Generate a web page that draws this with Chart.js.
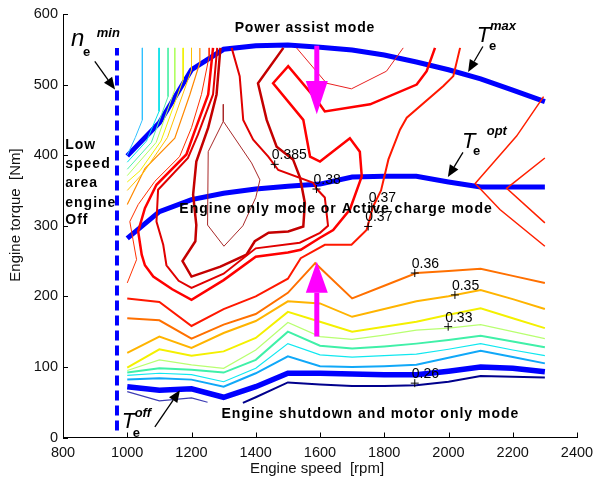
<!DOCTYPE html>
<html>
<head>
<title>Engine efficiency map</title>
<script src="https://cdn.jsdelivr.net/npm/chart.js"></script>
<style>
    body { margin: 0; background: #fff; }
    #wrap { width: 593px; height: 483px; }
</style>
</head>
<body>
<div id="wrap"><canvas id="map" width="593" height="483"></canvas></div>
<script>
    // speed grid (rpm) shared by the open curves
    const speeds = [1000, 1100, 1200, 1300, 1400, 1500, 1600, 1700, 1800, 1900, 2000, 2100, 2200, 2300];

    // operating lines (Nm)
    const teMax = [399, 446, 521, 550, 555, 556, 553, 549, 542, 532, 521, 508, 492, 476];
    const teOpt = [282, 320, 337, 346, 352, 356, 359, 369, 370, 370, 362, 355, 355, 355];
    const teOff = [72, 67, 69, 57, 72, 91, 91, 90, 89, 89, 94, 100, 98, 93];
    const neMinSpeed = 968;
    const neMinRange = [10, 552];

    // low-load efficiency contours
    const effOrangeX = [1000, 1100, 1200, 1300, 1400, 1500, 1585, 1700, 1800, 1900, 2000, 2100, 2200, 2300];
    const effOrangeY = [169, 166, 140, 160, 175, 205, 247, 197, 215, 233, 236, 239, 229, 219];
    const effGold = [120, 143, 127, 148, 165, 193, 190, 171, 182, 193, 200, 209, 196, 182];
    const effYellow = [99, 125, 116, 122, 141, 178, 164, 150, 157, 164, 174, 183, 169, 155];
    const effLightGreen = [95, 110, 103, 98, 124, 163, 143, 139, 145, 152, 155, 160, 150, 140];
    const effGreen = [92, 98, 96, 92, 110, 150, 130, 126, 129, 133, 138, 144, 136, 128];
    const effCyan = [88, 91, 89, 79, 98, 133, 117, 114, 116, 118, 125, 133, 124, 116];
    const effSky = [82, 84, 82, 72, 91, 115, 101, 100, 101, 103, 113, 123, 114, 105];
    const effNavyX = [1360, 1400, 1500, 1600, 1700, 1800, 1900, 2000, 2100, 2200, 2300];
    const effNavyY = [49, 57, 78, 75, 73, 73, 74, 79, 87, 86, 85];
    const effVioletX = [1000, 1100, 1200, 1250];
    const effVioletY = [65, 52, 56, 50];

    // high-torque contours at low speed
    const fan1X = [1047, 1047, 1025, 1000];
    const fan1Y = [552, 450, 425, 400];
    const fan2X = [1099, 1099, 1060, 1000];
    const fan2Y = [552, 462, 420, 390];
    const fan3X = [1127, 1127, 1075, 1000];
    const fan3Y = [552, 483, 418, 380];
    const fan4X = [1148, 1148, 1090, 1000];
    const fan4Y = [552, 493, 418, 371];
    const fan5X = [1174, 1174, 1105, 1040, 1000];
    const fan5Y = [552, 507, 420, 378, 362];
    const fan6X = [1200, 1200, 1125, 1050, 1000];
    const fan6Y = [552, 521, 425, 375, 350];
    const fan7X = [1226, 1226, 1195, 1148, 1055, 1000];
    const fan7Y = [552, 531, 486, 424, 381, 330];
    const fan8X = [1255, 1255, 1231, 1200, 1163, 1086, 1034, 1008, 1018, 1029, 1000];
    const fan8Y = [552, 540, 486, 439, 398, 363, 330, 306, 280, 252, 219];

    // best efficiency island
    const eff37X = [1000, 1100, 1200, 1300, 1400, 1500, 1540, 1615, 1698, 1745, 1765, 1790, 1813, 1849, 1870, 1984, 2015, 2036];
    const eff37Y = [197, 192, 158, 182, 200, 225, 254, 273, 273, 294, 327, 350, 394, 436, 453, 498, 512, 552];
    const eff375X = [1267, 1252, 1210, 1184, 1091, 1055, 1034, 1045, 1055, 1081, 1140, 1200, 1300, 1400, 1500, 1540, 1600, 1641, 1693, 1730, 1724, 1693, 1600, 1569, 1548, 1454, 1501, 1590, 1615, 1756, 1901, 1932, 1958];
    const eff375Y = [552, 486, 434, 401, 358, 325, 292, 259, 244, 228, 210, 195, 223, 256, 262, 266, 283, 294, 323, 370, 405, 424, 391, 398, 450, 502, 526, 478, 462, 472, 500, 519, 552];
    const eff38X = [1280, 1267, 1220, 1189, 1096, 1091, 1112, 1122, 1160, 1200, 1300, 1400, 1537, 1600, 1625, 1615, 1590, 1579, 1470, 1439, 1392, 1361, 1350, 1325];
    const eff38Y = [552, 486, 429, 396, 351, 306, 273, 244, 222, 212, 232, 268, 276, 290, 300, 340, 352, 361, 379, 398, 422, 450, 512, 552];
    const eff385X = [1290, 1278, 1252, 1215, 1205, 1215, 1212, 1172, 1200, 1290, 1371, 1397, 1440, 1501, 1548, 1553, 1538, 1516, 1465, 1434, 1407, 1486];
    const eff385Y = [552, 486, 439, 391, 344, 301, 278, 250, 228, 242, 259, 278, 290, 292, 299, 332, 368, 394, 412, 450, 502, 552];
    const eff39X = [1299, 1299, 1252, 1250, 1301, 1360, 1400, 1413, 1387, 1299];
    const eff39Y = [472, 448, 405, 301, 271, 300, 340, 365, 389, 448];
    const effTopX = [1527, 1620, 1698, 1807, 1859];
    const effTopY = [552, 502, 494, 519, 552];
    const effRight1X = [2296, 2212, 2083, 2160, 2300];
    const effRight1Y = [483, 427, 360, 323, 271];
    const effRight2X = [2300, 2181, 2300];
    const effRight2Y = [396, 353, 304];

    // contour value labels: text, speed, torque of the marker
    const labelText = ['0.385', '0.38', '0.37', '0.37', '0.36', '0.35', '0.33', '0.26'];
    const labelSpeed = [1459, 1589, 1761, 1750, 1895, 2020, 1999, 1895];
    const labelTorque = [387, 352, 327, 299, 233, 202, 157, 77];

    const xTicks = [800, 1000, 1200, 1400, 1600, 1800, 2000, 2200, 2400];
    const yTicks = [0, 100, 200, 300, 400, 500, 600];

    function pts(xs, ys) {
        return xs.map((v, i) => ({ x: v, y: ys[i] }));
    }

    function line(xs, ys, color, width, extra) {
        return Object.assign({
            data: pts(xs, ys),
            showLine: true,
            borderColor: color,
            borderWidth: width,
            pointRadius: 0,
            tension: 0,
            fill: false
        }, extra || {});
    }

    const datasets = [
        line(effVioletX, effVioletY, '#3c3cb4', 1.2),
        line(effNavyX, effNavyY, '#00008c', 2),
        line(speeds, effSky, '#10a8f8', 2),
        line(speeds, effCyan, '#10e8f0', 1.2),
        line(speeds, effGreen, '#40f0a8', 2),
        line(speeds, effLightGreen, '#b8ff70', 1.2),
        line(speeds, effYellow, '#f4f000', 2),
        line(speeds, effGold, '#ffb400', 2),
        line(effOrangeX, effOrangeY, '#ff7000', 2),
        line(fan1X, fan1Y, '#30c0ff', 1),
        line(fan2X, fan2Y, '#00e0e8', 1),
        line(fan3X, fan3Y, '#50f0a8', 1),
        line(fan4X, fan4Y, '#b0ff60', 1),
        line(fan5X, fan5Y, '#f0f000', 1),
        line(fan6X, fan6Y, '#ffc000', 1),
        line(fan7X, fan7Y, '#ff8800', 1.2),
        line(fan8X, fan8Y, '#ff3000', 1),
        line(eff37X, eff37Y, '#ff1800', 2),
        line(eff375X, eff375Y, '#ff0000', 2.5),
        line(eff38X, eff38Y, '#e00000', 2),
        line(eff385X, eff385Y, '#c40000', 2.5),
        line(eff39X, eff39Y, '#a82828', 1),
        line(effTopX, effTopY, '#e82020', 1),
        line(effRight1X, effRight1Y, '#ff2000', 1.5),
        line(effRight2X, effRight2Y, '#ff2000', 1.5),
        line(speeds, teOff, '#0000ff', 5.5),
        line(speeds, teOpt, '#0000ff', 5),
        line(speeds, teMax, '#0000ff', 5),
        line([neMinSpeed, neMinSpeed], neMinRange, '#0000ff', 4, { borderDash: [10, 5] })
    ];

    const FONT = '"Liberation Sans", Arial, sans-serif';

    const overlay = {
        id: 'overlay',
        afterDraw(chart) {
            const { ctx, chartArea: a, scales: { x, y } } = chart;
            const X = v => x.getPixelForValue(v);
            const Y = v => y.getPixelForValue(v);

            function text(str, sx, ty, font, align, spacing) {
                ctx.font = font;
                ctx.textAlign = align || 'left';
                ctx.textBaseline = 'alphabetic';
                ctx.letterSpacing = spacing || '0px';
                ctx.fillStyle = '#000';
                ctx.fillText(str, X(sx), Y(ty));
                ctx.letterSpacing = '0px';
            }

            function arrow(x1, y1, x2, y2) {
                const ax = X(x1), ay = Y(y1), bx = X(x2), by = Y(y2);
                const ang = Math.atan2(by - ay, bx - ax);
                const hl = 12, hw = 5;
                ctx.strokeStyle = '#000';
                ctx.lineWidth = 1.3;
                ctx.beginPath();
                ctx.moveTo(ax, ay);
                ctx.lineTo(bx - Math.cos(ang) * hl, by - Math.sin(ang) * hl);
                ctx.stroke();
                ctx.fillStyle = '#000';
                ctx.beginPath();
                ctx.moveTo(bx, by);
                ctx.lineTo(bx - Math.cos(ang) * hl - Math.sin(ang) * hw, by - Math.sin(ang) * hl + Math.cos(ang) * hw);
                ctx.lineTo(bx - Math.cos(ang) * hl + Math.sin(ang) * hw, by - Math.sin(ang) * hl - Math.cos(ang) * hw);
                ctx.closePath();
                ctx.fill();
            }

            function bigArrow(sx, fromT, neckT, tipT) {
                const cx = X(sx);
                ctx.fillStyle = '#ff00ff';
                ctx.fillRect(cx - 2.5, Math.min(Y(fromT), Y(neckT)), 5, Math.abs(Y(fromT) - Y(neckT)));
                ctx.beginPath();
                ctx.moveTo(cx - 11, Y(neckT));
                ctx.lineTo(cx + 11, Y(neckT));
                ctx.lineTo(cx, Y(tipT));
                ctx.closePath();
                ctx.fill();
            }

            ctx.save();

            // inward tick marks
            ctx.strokeStyle = '#000';
            ctx.lineWidth = 1;
            xTicks.forEach(v => {
                ctx.beginPath();
                ctx.moveTo(Math.round(X(v)) + 0.5, a.bottom);
                ctx.lineTo(Math.round(X(v)) + 0.5, a.bottom - 5);
                ctx.stroke();
            });
            yTicks.forEach(v => {
                ctx.beginPath();
                ctx.moveTo(a.left, Math.round(Y(v)) + 0.5);
                ctx.lineTo(a.left + 5, Math.round(Y(v)) + 0.5);
                ctx.stroke();
            });

            // power flow arrows
            bigArrow(1590, 555, 505, 458);
            bigArrow(1590, 143, 205, 249);

            // contour labels with their markers
            labelText.forEach((t, i) => {
                const mx = X(labelSpeed[i]), my = Y(labelTorque[i]);
                ctx.strokeStyle = '#000';
                ctx.lineWidth = 1;
                ctx.beginPath();
                ctx.moveTo(mx - 4, my); ctx.lineTo(mx + 4, my);
                ctx.moveTo(mx, my - 4); ctx.lineTo(mx, my + 4);
                ctx.stroke();
                ctx.font = '14px ' + FONT;
                ctx.textAlign = 'left';
                ctx.textBaseline = 'middle';
                ctx.fillStyle = '#000';
                ctx.fillText(t, mx - 3, my - 9);
            });

            // operating region captions
            const bold = 'bold 14px ' + FONT;
            text('Power assist mode', 1553, 574, bold, 'center', '0.8px');
            text('Engine only mode or Active charge mode', 1650, 318, bold, 'center', '1px');
            text('Engine shutdown and motor only mode', 1757, 27, bold, 'center', '1px');
            const lowSpeed = ['Low', 'speed', 'area', 'engine', 'Off'];
            const lowSpeedT = [409, 382, 355, 327, 302];
            lowSpeed.forEach((s, i) => text(s, 807, lowSpeedT[i], bold, 'left', '1px'));

            // symbols for the operating lines
            const sym = 'italic 22px ' + FONT;
            const sub = 'bold 13px ' + FONT;
            const sup = 'bold italic 13px ' + FONT;
            text('n', 825, 554, 'italic 24px ' + FONT);
            text('e', 862, 540, sub);
            text('min', 905, 568, sup);
            text('T', 2088, 561, sym);
            text('e', 2126, 549, sub);
            text('max', 2129, 578, sup);
            text('T', 2042, 410, sym);
            text('e', 2076, 400, sub);
            text('opt', 2119, 428, sup);
            text('T', 983, 13, sym);
            text('e', 1017, 1, sub);
            text('off', 1023, 29, sup);

            arrow(899, 533, 962, 493);
            arrow(2107, 554, 2061, 518);
            arrow(2045, 404, 1998, 369);
            arrow(1086, 15, 1164, 67);

            // axis titles
            ctx.font = '15px ' + FONT;
            ctx.fillStyle = '#111';
            ctx.textAlign = 'center';
            ctx.textBaseline = 'middle';
            ctx.fillText('Engine speed  [rpm]', 317, 469);
            ctx.translate(16, 215);
            ctx.rotate(-Math.PI / 2);
            ctx.fillText('Engine torque  [Nm]', 0, 0);

            ctx.restore();
        }
    };

    new Chart(document.getElementById('map'), {
        type: 'scatter',
        data: { datasets: datasets },
        options: {
            responsive: false,
            animation: false,
            layout: { padding: { left: 0, right: 16, top: 14, bottom: 0 } },
            plugins: { legend: { display: false }, tooltip: { enabled: false } },
            scales: {
                x: {
                    type: 'linear',
                    min: 800, max: 2400,
                    afterBuildTicks: s => { s.ticks = xTicks.map(v => ({ value: v })); },
                    afterFit: s => { s.height = 45.5; s.paddingLeft = 0; s.paddingRight = 0; },
                    grid: { display: false, drawTicks: false },
                    border: { display: true, color: '#000', width: 1 },
                    ticks: {
                        color: '#111', padding: 7, maxRotation: 0,
                        font: { family: FONT, size: 14.5 },
                        callback: v => String(v)
                    }
                },
                y: {
                    type: 'linear',
                    min: 0, max: 600,
                    afterBuildTicks: s => { s.ticks = yTicks.map(v => ({ value: v })); },
                    afterFit: s => { s.width = 63; s.paddingTop = 0; s.paddingBottom = 0; },
                    grid: { display: false, drawTicks: false },
                    border: { display: true, color: '#000', width: 1 },
                    ticks: {
                        color: '#111', padding: 5,
                        font: { family: FONT, size: 14.5 },
                        callback: v => String(v)
                    }
                }
            }
        },
        plugins: [overlay]
    });
</script>
</body>
</html>
